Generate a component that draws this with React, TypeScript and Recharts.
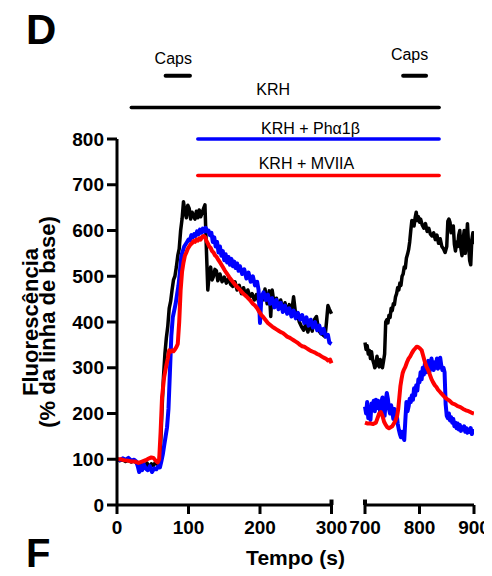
import React from 'react';
import { LineChart, Line, XAxis, YAxis, ReferenceLine } from 'recharts';

const FONT = '"Liberation Sans", Arial, Helvetica, sans-serif';

// ---- axis definitions (broken time axis: 0-300 s and 700-900 s) ----
const xTickValues = [0, 100, 200, 300, 700, 800, 900];
const yTickValues = [0, 100, 200, 300, 400, 500, 600, 700, 800];
const LEFT_K = 0.715; // axis units per second, first segment
const RIGHT_START = 248; // axis position where second segment starts
const RIGHT_K = 0.545; // axis units per second, second segment
const AXIS_MAX = 357;
const toAxis = (t: number) => (t <= 300 ? t * LEFT_K : RIGHT_START + (t - 700) * RIGHT_K);

// ---- traces: [time (s), fluorescence (% baseline)] ----
const krhLeft: [number, number][] = [
  [0, 100], [4, 97], [8, 99], [12, 95], [16, 98], [20, 94], [24, 97], [27, 92], [30, 88], [33, 80],
  [36, 90], [39, 84], [42, 92], [45, 82], [48, 90], [51, 86], [54, 94], [57, 88], [59, 95], [61, 130],
  [63, 210], [65, 280], [67, 330], [69, 365], [71, 390], [73, 430], [75, 445], [77, 470], [79, 492], [81, 500],
  [83, 520], [85, 545], [87, 560], [89, 600], [91, 625], [93, 663], [95, 640], [97, 628], [99, 655], [101, 648],
  [103, 625], [105, 640], [107, 632], [109, 625], [111, 642], [113, 628], [115, 645], [117, 630], [119, 638], [121, 648],
  [123, 656], [125, 560], [127, 470], [129, 505], [131, 520], [133, 492], [135, 500], [137, 515], [139, 512], [141, 490],
  [144, 505], [147, 488], [150, 498], [153, 485], [156, 495], [159, 482], [162, 478], [165, 488], [168, 470], [171, 480],
  [174, 462], [177, 475], [180, 458], [183, 470], [186, 455], [189, 462], [192, 448], [195, 460], [198, 445], [201, 458],
  [204, 448], [207, 472], [210, 440], [213, 468], [215, 412], [217, 470], [220, 438], [223, 452], [226, 430], [229, 448],
  [232, 425], [235, 442], [238, 420], [241, 438], [244, 418], [247, 455], [250, 415], [252, 420], [255, 400], [258, 390],
  [261, 382], [264, 395], [267, 378], [270, 398], [273, 380], [276, 405], [279, 412], [282, 382], [285, 375], [288, 372],
  [291, 368], [293, 400], [295, 436], [297, 428], [300, 418],
];
const krhRight: [number, number][] = [
  [700, 355], [702, 340], [704, 348], [706, 330], [708, 338], [710, 320], [712, 335], [714, 318], [716, 310], [718, 300],
  [720, 305], [722, 325], [724, 310], [726, 302], [728, 318], [730, 305], [732, 300], [734, 315], [736, 330], [738, 400],
  [740, 405], [742, 398], [744, 415], [746, 410], [748, 430], [750, 425], [752, 440], [754, 438], [756, 455], [758, 462],
  [760, 475], [762, 470], [764, 485], [766, 480], [768, 500], [770, 505], [772, 520], [774, 518], [776, 540], [778, 548],
  [780, 558], [782, 575], [784, 600], [786, 622], [788, 620], [790, 610], [792, 628], [794, 640], [796, 622], [798, 630],
  [800, 618], [802, 625], [805, 612], [808, 605], [811, 615], [814, 598], [817, 605], [820, 592], [823, 588], [826, 595],
  [829, 580], [832, 590], [835, 572], [838, 582], [841, 565], [844, 560], [847, 552], [850, 565], [852, 620], [854, 625],
  [856, 618], [858, 595], [860, 602], [862, 610], [864, 570], [866, 555], [868, 575], [870, 565], [872, 590], [874, 600],
  [876, 560], [878, 545], [880, 580], [882, 600], [884, 550], [886, 575], [888, 615], [890, 570], [892, 535], [894, 525],
  [896, 580], [898, 595], [900, 570],
];

const phaLeft: [number, number][] = [
  [0, 100], [4, 98], [8, 102], [12, 99], [16, 103], [20, 97], [24, 99], [27, 95], [29, 85], [31, 72],
  [33, 85], [35, 76], [37, 90], [40, 80], [43, 76], [46, 85], [49, 72], [52, 80], [55, 78], [58, 85],
  [60, 82], [62, 95], [64, 110], [66, 130], [68, 150], [70, 170], [72, 210], [74, 290], [76, 370], [78, 410],
  [80, 425], [82, 440], [84, 460], [86, 480], [88, 510], [90, 545], [92, 555], [94, 565], [96, 570], [98, 575],
  [100, 580], [102, 578], [104, 590], [106, 585], [108, 592], [110, 588], [112, 598], [114, 592], [116, 602], [118, 595],
  [120, 604], [122, 598], [124, 606], [126, 598], [128, 600], [130, 590], [132, 595], [134, 575], [136, 585], [138, 565],
  [140, 575], [142, 552], [144, 565], [146, 545], [148, 555], [150, 535], [152, 548], [154, 530], [156, 542], [158, 525],
  [160, 538], [162, 522], [164, 532], [166, 518], [168, 528], [170, 512], [172, 522], [175, 505], [178, 515], [181, 495],
  [184, 508], [187, 488], [190, 500], [193, 480], [196, 488], [198, 470], [200, 398], [202, 455], [205, 465], [208, 448],
  [211, 460], [214, 440], [217, 452], [220, 432], [223, 448], [226, 428], [229, 442], [232, 422], [235, 436], [238, 418],
  [241, 430], [244, 412], [247, 425], [250, 408], [253, 420], [256, 405], [259, 415], [262, 398], [265, 410], [268, 392],
  [271, 405], [274, 388], [277, 400], [280, 382], [283, 392], [286, 375], [289, 385], [292, 368], [295, 372], [297, 355],
  [300, 352],
];
const phaRight: [number, number][] = [
  [700, 215], [702, 200], [704, 225], [706, 190], [708, 215], [710, 186], [712, 222], [714, 210], [716, 228], [718, 205],
  [720, 230], [722, 212], [724, 228], [726, 220], [728, 200], [730, 225], [732, 235], [734, 215], [736, 195], [738, 228],
  [740, 245], [742, 232], [744, 210], [746, 200], [748, 218], [750, 205], [752, 188], [754, 210], [756, 185], [758, 200],
  [760, 178], [762, 165], [764, 155], [766, 148], [768, 160], [770, 150], [772, 142], [774, 185], [776, 225], [778, 205],
  [780, 215], [782, 232], [784, 225], [786, 240], [788, 230], [790, 255], [792, 240], [794, 262], [796, 250], [798, 275],
  [800, 268], [802, 290], [804, 275], [806, 300], [808, 285], [810, 310], [812, 290], [814, 305], [816, 315], [818, 290],
  [820, 300], [822, 320], [824, 305], [826, 295], [828, 312], [830, 300], [832, 320], [834, 298], [836, 310], [838, 322],
  [840, 305], [842, 295], [844, 300], [846, 290], [848, 220], [850, 195], [852, 190], [854, 200], [856, 185], [858, 192],
  [860, 180], [862, 188], [864, 172], [866, 180], [868, 168], [870, 178], [872, 165], [874, 175], [876, 162], [878, 170],
  [880, 165], [882, 172], [884, 160], [886, 168], [888, 158], [890, 165], [892, 160], [894, 168], [896, 155], [898, 162],
  [900, 160],
];

const mviiaLeft: [number, number][] = [
  [0, 100], [5, 100], [10, 98], [15, 97], [20, 95], [25, 95], [30, 92], [35, 95], [40, 98], [45, 102],
  [48, 104], [51, 103], [54, 97], [57, 93], [59, 100], [61, 160], [63, 236], [66, 280], [69, 305], [71, 320],
  [73, 338], [75, 335], [77, 338], [79, 336], [81, 340], [83, 345], [85, 352], [87, 400], [89, 470], [91, 510],
  [93, 530], [95, 545], [97, 552], [99, 560], [101, 565], [103, 570], [105, 572], [107, 577], [109, 575], [111, 580],
  [113, 578], [115, 583], [117, 580], [119, 586], [121, 588], [123, 586], [125, 578], [127, 572], [129, 565], [131, 562],
  [133, 555], [135, 552], [137, 546], [139, 543], [142, 535], [145, 528], [148, 520], [151, 512], [154, 505], [157, 498],
  [160, 492], [163, 486], [166, 480], [169, 475], [172, 470], [175, 465], [178, 460], [181, 456], [184, 451], [187, 446],
  [190, 440], [193, 436], [196, 430], [199, 422], [202, 415], [205, 410], [208, 404], [211, 398], [214, 394], [217, 390],
  [220, 387], [223, 384], [226, 381], [229, 378], [232, 376], [235, 372], [238, 368], [241, 366], [244, 363], [247, 360],
  [250, 357], [253, 354], [256, 350], [259, 347], [262, 346], [265, 343], [268, 340], [271, 337], [274, 335], [277, 333],
  [280, 330], [283, 328], [286, 325], [289, 322], [292, 320], [295, 316], [298, 318], [300, 310],
];
const mviiaRight: [number, number][] = [
  [700, 180], [705, 178], [710, 178], [715, 177], [720, 180], [723, 190], [726, 200], [729, 203], [732, 195], [735, 182],
  [738, 175], [741, 170], [744, 168], [747, 170], [750, 172], [753, 178], [756, 185], [759, 195], [761, 210], [763, 235],
  [765, 260], [767, 275], [769, 288], [771, 295], [774, 302], [777, 312], [780, 320], [783, 325], [786, 332], [789, 338],
  [792, 342], [795, 346], [798, 345], [801, 342], [804, 338], [807, 325], [810, 312], [813, 302], [816, 295], [819, 285],
  [822, 275], [825, 268], [828, 262], [831, 258], [834, 252], [837, 248], [840, 244], [843, 240], [846, 236], [850, 232],
  [855, 228], [860, 222], [865, 220], [870, 216], [875, 214], [880, 210], [885, 207], [890, 205], [895, 202], [900, 200],
];

// ---- protocol bars: [start s, end s], level in y units ----
const capsFirst = [68, 102];
const capsSecond = [770, 812];
const krhSpan = [20, 836];
const phaSpan = [113, 836];
const mviiaSpan = [113, 836];
const capsLevel = 938;
const krhLevel = 869;
const phaLevel = 800;
const mviiaLevel = 720;

const buildSeries = (left: [number, number][], right: [number, number][]) => [
  ...left.map(([t, v]) => ({ x: toAxis(t), v })),
  { x: (toAxis(300) + toAxis(700)) / 2, v: null },
  ...right.map(([t, v]) => ({ x: toAxis(t), v })),
];

const krhData = buildSeries(krhLeft, krhRight);
const phaData = buildSeries(phaLeft, phaRight);
const mviiaData = buildSeries(mviiaLeft, mviiaRight);

const xTicks = xTickValues.map(toAxis);
const formatX = (v: number) => {
  const i = xTicks.findIndex((p) => Math.abs(p - v) < 0.01);
  return i >= 0 ? String(xTickValues[i]) : '';
};

const annotLabel = (text: string, dx: number, gap: number) => (props: any) => {
  const vb = props && props.viewBox ? props.viewBox : null;
  if (!vb) return null;
  const x = (vb.x ?? 0) + (vb.width ?? 0) / 2 + dx;
  const y = (vb.y ?? 0) - gap;
  return (
    <text x={x} y={y} textAnchor="middle" fontSize={16} fontFamily={FONT} fill="#000">
      {text}
    </text>
  );
};

const bar = (span: number[], level: number, color: string, width: number, label: any, key: string) => (
  <ReferenceLine
    key={key}
    segment={[
      { x: toAxis(span[0]), y: level },
      { x: toAxis(span[1]), y: level },
    ]}
    ifOverflow="visible"
    stroke={color}
    strokeWidth={width}
    strokeLinecap="round"
    label={{ content: label }}
  />
);

const tickStyle = { fill: '#000', fontSize: 19, fontWeight: 700, fontFamily: FONT };

export default function App() {
  return (
    <div style={{ position: 'relative', width: 484, height: 568 }}>
      <LineChart
        width={484}
        height={568}
        margin={{ top: 131, right: 18, bottom: 11, left: 0 }}
        style={{ position: 'absolute', left: 0, top: 0 }}
      >
        <XAxis
          type="number"
          dataKey="x"
          domain={[0, AXIS_MAX]}
          ticks={xTicks}
          interval={0}
          tickFormatter={formatX}
          axisLine={false}
          tickLine={{ stroke: '#000', strokeWidth: 3 }}
          tickSize={9}
          tickMargin={7}
          tick={tickStyle}
          height={60}
          allowDataOverflow
          label={{
            value: 'Tempo (s)',
            position: 'insideBottom',
            offset: 0,
            style: { fontSize: 21, fontWeight: 700, fontFamily: FONT, fill: '#000' },
          }}
        />
        <YAxis
          type="number"
          domain={[0, 800]}
          ticks={yTickValues}
          interval={0}
          width={109}
          axisLine={{ stroke: '#000', strokeWidth: 3 }}
          tickLine={{ stroke: '#000', strokeWidth: 3 }}
          tickSize={10}
          tickMargin={3}
          tick={tickStyle}
          allowDataOverflow
        />
        {/* broken x axis line */}
        <ReferenceLine
          segment={[{ x: toAxis(0), y: 0 }, { x: toAxis(300), y: 0 }]}
          stroke="#000"
          strokeWidth={3}
          ifOverflow="visible"
        />
        <ReferenceLine
          segment={[{ x: toAxis(700), y: 0 }, { x: toAxis(900), y: 0 }]}
          stroke="#000"
          strokeWidth={3}
          ifOverflow="visible"
        />
        <ReferenceLine
          segment={[{ x: toAxis(300), y: 0 }, { x: toAxis(300), y: 12 }]}
          stroke="#000"
          strokeWidth={4}
          ifOverflow="visible"
        />
        <ReferenceLine
          segment={[{ x: toAxis(700), y: 0 }, { x: toAxis(700), y: 12 }]}
          stroke="#000"
          strokeWidth={4}
          ifOverflow="visible"
        />

        {bar(capsFirst, capsLevel, '#000', 4, annotLabel('Caps', -4.5, 12), 'c1')}
        {bar(capsSecond, capsLevel, '#000', 4, annotLabel('Caps', -5, 16), 'c2')}
        {bar(krhSpan, krhLevel, '#000', 3.5, annotLabel('KRH', -12, 12), 'k')}
        {bar(phaSpan, phaLevel, '#0000ff', 3.5, annotLabel('KRH + Phα1β', -8, 5), 'p')}
        {bar(mviiaSpan, mviiaLevel, '#ff0000', 3.5, annotLabel('KRH + MVIIA', -12, 6.5), 'm')}

        <Line
          data={krhData}
          dataKey="v"
          type="linear"
          stroke="#000000"
          strokeWidth={3.5}
          strokeLinejoin="round"
          dot={false}
          activeDot={false}
          isAnimationActive={false}
        />
        <Line
          data={phaData}
          dataKey="v"
          type="linear"
          stroke="#0000ff"
          strokeWidth={4}
          strokeLinejoin="round"
          dot={false}
          activeDot={false}
          isAnimationActive={false}
        />
        <Line
          data={mviiaData}
          dataKey="v"
          type="linear"
          stroke="#ff0000"
          strokeWidth={4}
          strokeLinejoin="round"
          dot={false}
          activeDot={false}
          isAnimationActive={false}
        />
      </LineChart>
      <svg
        width={492}
        height={576}
        style={{ position: 'absolute', left: -8, top: -8, pointerEvents: 'none' }}
      >
        <text x={26} y={44} fontSize={42} fontWeight={700} fontFamily={FONT} fill="#000">
          D
        </text>
        <text x={26} y={567} fontSize={40} fontWeight={700} fontFamily={FONT} fill="#000">
          F
        </text>
        <text
          transform="translate(38,322) rotate(-90)"
          textAnchor="middle"
          fontSize={22}
          fontWeight={700}
          fontFamily={FONT}
          fill="#000"
        >
          Fluorescência
        </text>
        <text
          transform="translate(55,322) rotate(-90)"
          textAnchor="middle"
          fontSize={22}
          fontWeight={700}
          fontFamily={FONT}
          fill="#000"
        >
          (% da linha de base)
        </text>
      </svg>
    </div>
  );
}
